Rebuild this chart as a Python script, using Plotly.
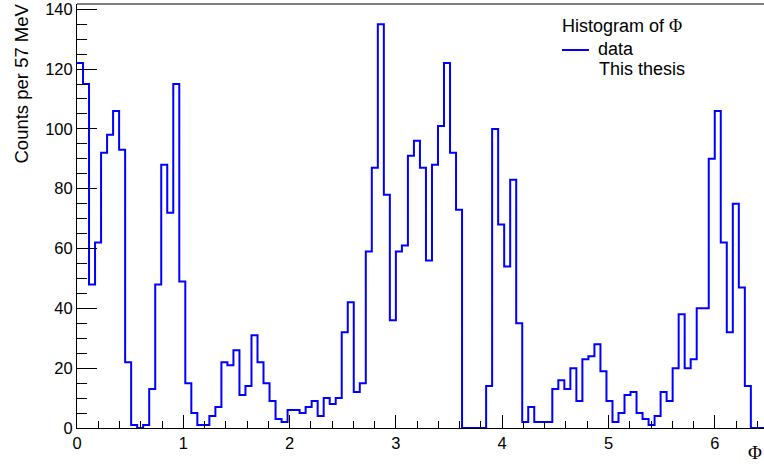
import numpy as np
import plotly.graph_objects as go

# ---- data ----
bin_width = 0.0566
counts = [122, 115, 48, 62, 92, 98, 106, 93, 22, 1,
          0, 1, 13, 48, 88, 72, 115, 49, 15, 5,
          1, 1, 4, 7, 22, 21, 26, 11, 14, 31,
          22, 15, 9, 3, 2, 6, 6, 5, 7, 9,
          4, 10, 8, 10, 32, 42, 12, 15, 59, 87,
          135, 78, 36, 59, 61, 91, 96, 87, 56, 88,
          101, 122, 92, 73, 0, 0, 0, 0, 14, 100,
          68, 54, 83, 35, 2, 7, 2, 2, 2, 13,
          16, 13, 20, 9, 23, 24, 28, 19, 9, 2,
          5, 11, 12, 5, 3, 1, 4, 12, 9, 20,
          38, 20, 23, 40, 40, 90, 106, 62, 32, 75,
          47, 14, 0, 0, 0]
x_tickvals = [0, 1, 2, 3, 4, 5, 6]
y_tickvals = [0, 20, 40, 60, 80, 100, 120, 140]
series_name = "data"
legend_header = "Histogram of <span style='font-family:Liberation Serif'>Φ</span>"
legend_note = "This thesis"
y_title = "Counts per 57 MeV"
x_title = "<span style='font-family:Liberation Serif'>Φ</span>"

edges = np.arange(len(counts) + 1) * bin_width
yvals = list(counts) + [counts[-1]]

W, H = 764, 472
ML, MR, MT, MB = 77, 0, 4, 44
PW, PH = W - ML - MR, H - MT - MB
px_per_unit = 106.3
xmax = PW / px_per_unit
ymax = 141.75

def px(xp):
    return (xp - ML) / PW

def py(yp):
    return (H - MB - yp) / PH

FONT = "Liberation Sans, Arial, Helvetica, sans-serif"

fig = go.Figure()
fig.add_trace(go.Scatter(
    x=edges, y=yvals, mode="lines", line_shape="hv",
    line=dict(color="#0000ff", width=2), name=series_name,
    showlegend=False, hoverinfo="skip"))

axis_common = dict(showgrid=False, zeroline=False, showline=True,
                   linecolor="black", linewidth=1, ticks="inside",
                   tickcolor="black", tickwidth=1,
                   tickfont=dict(family=FONT, size=16.5, color="black"))

fig.update_xaxes(range=[0, xmax], tickvals=x_tickvals, ticklen=13,
                 minor=dict(ticks="inside", ticklen=7, dtick=0.2, tickcolor="black"),
                 **axis_common)
fig.update_yaxes(range=[0, ymax], tickvals=y_tickvals, ticklen=20,
                 minor=dict(ticks="inside", ticklen=10, dtick=5, tickcolor="black"),
                 **axis_common)

# top frame line
fig.add_shape(type="line", xref="paper", yref="paper", x0=0, x1=1, y0=1, y1=1,
              line=dict(color="black", width=1))

# legend-like block
fig.add_annotation(text=legend_header, xref="paper", yref="paper",
                   x=px(560), y=py(26), xanchor="left", yanchor="middle",
                   showarrow=False, font=dict(family=FONT, size=18, color="black"))
fig.add_shape(type="line", xref="paper", yref="paper", x0=px(562), x1=px(589),
              y0=py(50), y1=py(50), line=dict(color="#0000ff", width=2))
fig.add_annotation(text=series_name, xref="paper", yref="paper",
                   x=px(596), y=py(48.5), xanchor="left", yanchor="middle",
                   showarrow=False, font=dict(family=FONT, size=18, color="black"))
fig.add_annotation(text=legend_note, xref="paper", yref="paper",
                   x=px(597), y=py(69.5), xanchor="left", yanchor="middle",
                   showarrow=False, font=dict(family=FONT, size=18, color="black"))

# axis titles
fig.add_annotation(text=y_title, xref="paper", yref="paper",
                   x=px(21), y=py(1.5), xanchor="center", yanchor="top",
                   textangle=-90, showarrow=False,
                   font=dict(family=FONT, size=18.5, color="black"))
fig.add_annotation(text=x_title, xref="paper", yref="paper",
                   x=px(755), y=py(452), xanchor="center", yanchor="middle",
                   showarrow=False, font=dict(family=FONT, size=19, color="black"))

fig.update_layout(width=W, height=H,
                  margin=dict(l=ML, r=MR, t=MT, b=MB, pad=0),
                  paper_bgcolor="white", plot_bgcolor="white",
                  showlegend=False)

fig.write_html("out.html", config={"displayModeBar": False})
